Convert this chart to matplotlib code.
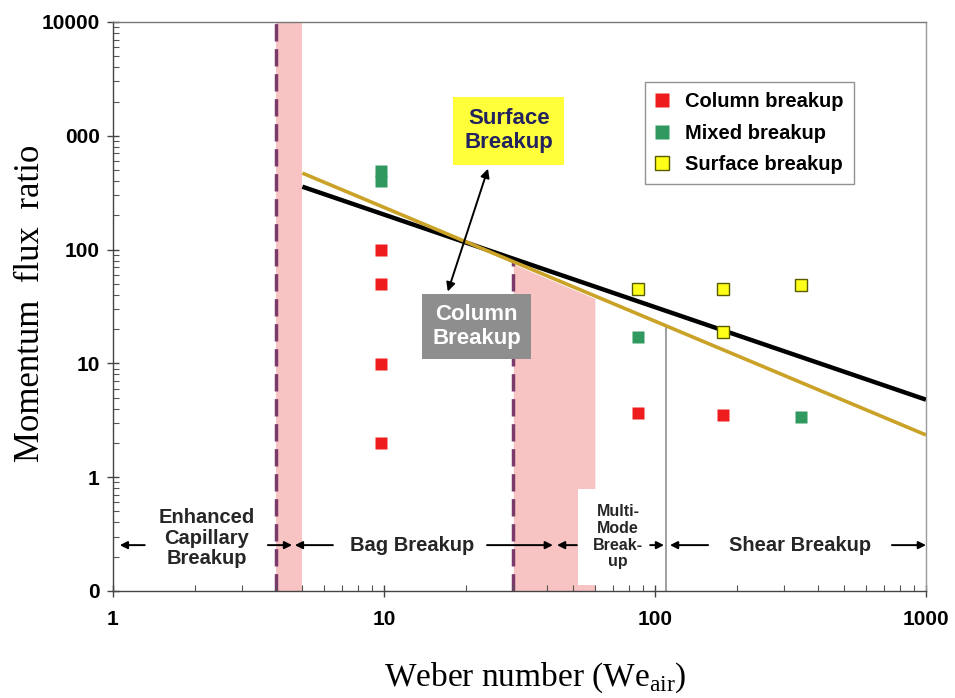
##### Librerías ########
import numpy as np
import matplotlib
matplotlib.use("Agg")
import matplotlib.pyplot as plt
from matplotlib.ticker import FixedLocator, LogLocator, NullFormatter

####### Datos #######

# Puntos experimentales (Weber, razón de flujo de momentum)
columnaX = [9.75, 9.75, 9.75, 9.75, 86.5, 178]
columnaY = [100, 50, 9.8, 2.0, 3.7, 3.5]
mixtoX = [9.75, 9.75, 86.5, 345]
mixtoY = [490, 400, 16.9, 3.4]
superficieX = [86.5, 178, 345, 178]
superficieY = [44.6, 45.5, 48.5, 18.7]

# Líneas de transición
negraX = [5, 1000]
negraY = [357, 4.8]
oroX = [5, 1000]
oroY = [470, 2.35]

# Límites de regímenes
BAG_INICIO = 4
BAG_BANDA_FIN = 5
MULTI_INICIO = 30
MULTI_BANDA_FIN = 60
SHEAR_INICIO = 110

YTICKS = [0.1, 1, 10, 100, 1000, 10000]
YTICKLABELS = ["0", "1", "10", "100", "000", "10000"]
XTICKS = [1, 10, 100, 1000]
XTICKLABELS = ["1", "10", "100", "1000"]

LEGEND_LABELS = ["Column breakup", "Mixed breakup", "Surface breakup"]

####### Estilo #######
ROSA = "#f8c3c3"
MORADO = "#7a3b6b"
ORO = "#c9a227"
ROJO = "#ee1c1c"
VERDE = "#2f9960"
AMARILLO = "#ffff1a"
TEXTO = "#262626"
SANS = "Liberation Sans"
SERIF = "Liberation Serif"

plt.rcParams["font.family"] = [SANS, "DejaVu Sans"]
plt.rcParams["mathtext.fontset"] = "custom"
plt.rcParams["mathtext.rm"] = SERIF

def oroEn(x):
	return 10 ** np.interp(np.log10(x), np.log10(oroX), np.log10(oroY))

def flecha(ax, cola, punta, y):
	ax.annotate("", xy=(punta, y), xytext=(cola, y),
				arrowprops=dict(arrowstyle="-|>", color="black", lw=1.4,
								mutation_scale=11, shrinkA=0, shrinkB=0))

fig = plt.figure(figsize=(9.55, 6.98), dpi=100)
ax = fig.add_axes([0.1183, 0.1533, 0.8513, 0.8152])
ax.set_xscale("log")
ax.set_yscale("log")
ax.set_xlim(1, 1000)
ax.set_ylim(0.1, 10000)

# Bandas y divisiones de regímenes
ax.axvspan(BAG_INICIO, BAG_BANDA_FIN, color=ROSA, lw=0, zorder=0)
ax.axvline(BAG_INICIO, color=MORADO, lw=2.5, dashes=(5, 2.2), zorder=1)
bx = np.array([MULTI_INICIO, MULTI_BANDA_FIN])
ax.fill_between(bx, oroEn(bx) * 0.95, 0.1, color=ROSA, lw=0, zorder=0)
ax.vlines(MULTI_INICIO, 0.1, oroEn(MULTI_INICIO), color=MORADO, lw=2.5,
		  linestyles=[(0, (5, 2.2))], zorder=1)
ax.vlines(SHEAR_INICIO, 0.1, oroEn(SHEAR_INICIO), color="#999999", lw=1.3, zorder=1)

# Líneas de transición
ax.plot(negraX, negraY, color="black", lw=3.2, solid_capstyle="butt", zorder=3)
ax.plot(oroX, oroY, color=ORO, lw=2.6, solid_capstyle="butt", zorder=3)

# Puntos
ax.plot(columnaX, columnaY, "s", color=ROJO, ms=9, mec="none", zorder=4, label=LEGEND_LABELS[0])
ax.plot(mixtoX, mixtoY, "s", color=VERDE, ms=9, mec="none", zorder=4, label=LEGEND_LABELS[1])
ax.plot(superficieX, superficieY, "s", color=AMARILLO, ms=9, mec="#5a5a00", mew=1.0,
		zorder=4, label=LEGEND_LABELS[2])

leg = ax.legend(loc="upper left", bbox_to_anchor=(0.654, 0.894), frameon=True, fancybox=False,
				prop=dict(family=SANS, weight="bold", size=14.5), handlelength=0.7,
				handletextpad=0.8, borderpad=0.5, labelspacing=0.62, markerscale=1.1,
				borderaxespad=0)
leg.get_frame().set_edgecolor("#777777")
leg.get_frame().set_linewidth(1.0)

# Cajas de texto
ax.text(28.9, 1106, "Surface\nBreakup", ha="center", va="center", fontsize=16,
		fontweight="bold", color="#23235f", linespacing=1.2, zorder=5,
		bbox=dict(boxstyle="square,pad=0.5", facecolor="#ffff3a", edgecolor="none"))
ax.text(22.0, 21.1, "Column\nBreakup", ha="center", va="center", fontsize=16,
		fontweight="bold", color="white", linespacing=1.2, zorder=5,
		bbox=dict(boxstyle="square,pad=0.45", facecolor="#8e8e8e", edgecolor="none"))
ax.annotate("", xy=(24.2, 514), xytext=(17.2, 42.8),
			arrowprops=dict(arrowstyle="<|-|>", color="black", lw=1.4,
							mutation_scale=13, shrinkA=0, shrinkB=0), zorder=5)

# Regímenes en la parte inferior
YFL = 0.253
ax.text(2.22, 0.29, "Enhanced\nCapillary\nBreakup", ha="center", va="center", fontsize=14.5,
		fontweight="bold", color=TEXTO, linespacing=1.1)
ax.text(12.7, YFL, "Bag Breakup", ha="center", va="center", fontsize=14.5,
		fontweight="bold", color=TEXTO)
ax.text(73, 0.30, "Multi-\nMode\nBreak-\nup", ha="center", va="center", fontsize=11.5,
		fontweight="bold", color=TEXTO, linespacing=1.15, zorder=2,
		bbox=dict(boxstyle="square,pad=0.95", facecolor="white", edgecolor="none"))
ax.text(343, YFL, "Shear Breakup", ha="center", va="center", fontsize=14.5,
		fontweight="bold", color=TEXTO)
flecha(ax, 1.31, 1.06, YFL)
flecha(ax, 3.73, 4.58, YFL)
flecha(ax, 6.48, 4.69, YFL)
flecha(ax, 24, 42, YFL)
flecha(ax, 51.5, 43.5, YFL)
flecha(ax, 96, 108, YFL)
flecha(ax, 157, 113.6, YFL)
flecha(ax, 749, 1000, YFL)

# Ejes
ax.xaxis.set_major_locator(FixedLocator(XTICKS))
ax.set_xticklabels(XTICKLABELS)
ax.yaxis.set_major_locator(FixedLocator(YTICKS))
ax.set_yticklabels(YTICKLABELS)
ax.xaxis.set_minor_locator(LogLocator(base=10, subs=np.arange(2, 10)))
ax.yaxis.set_minor_locator(LogLocator(base=10, subs=np.arange(2, 10)))
ax.xaxis.set_minor_formatter(NullFormatter())
ax.yaxis.set_minor_formatter(NullFormatter())
ax.tick_params(which="major", direction="inout", length=9, width=1, color="#444444",
			   labelsize=15, pad=5)
ax.tick_params(which="minor", direction="in", length=4, width=0.8, color="#555555")
ax.tick_params(axis="x", which="major", pad=9)
for lbl in ax.get_xticklabels() + ax.get_yticklabels():
	lbl.set_fontweight("bold")
	lbl.set_family(SANS)

ax.spines["left"].set_color("#444444")
ax.spines["bottom"].set_color("#444444")
ax.spines["top"].set_color("#777777")
ax.spines["right"].set_color("#9a9a9a")
for s in ax.spines.values():
	s.set_linewidth(1.0)

ax.set_xlabel(r"Weber number (We$_{\mathrm{air}}$)", fontsize=24, family=SERIF)
ax.set_ylabel("Momentum  flux  ratio", fontsize=25, family=SERIF)
ax.xaxis.set_label_coords(0.52, -0.153)
ax.yaxis.set_label_coords(-0.102, 0.505)
ax.xaxis.label.set_va("center")
ax.yaxis.label.set_va("center")

fig.savefig("out.png", dpi=100)
